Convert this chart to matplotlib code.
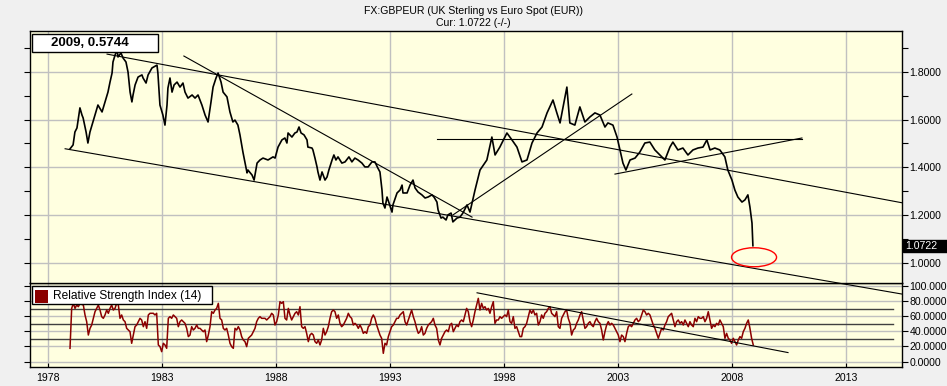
import numpy as np
import matplotlib
matplotlib.use('Agg')
import matplotlib.pyplot as plt
from matplotlib.patches import Ellipse, Rectangle
from matplotlib.transforms import blended_transform_factory

plt.rcParams['font.family'] = ['Liberation Sans', 'DejaVu Sans']

# ---------------- text ----------------
title = "FX:GBPEUR (UK Sterling vs Euro Spot (EUR))"
subtitle = "Cur: 1.0722 (-/-)"
info_label = "2009, 0.5744"
current_value = 1.0722
rsi_label = "Relative Strength Index (14)"

# ---------------- price series (year, GBP/EUR) ----------------
price_dates = [
    1978.96, 1979.10, 1979.18, 1979.27, 1979.40, 1979.49, 1979.54, 1979.67, 1979.75, 1979.84,
    1979.97, 1980.15, 1980.19, 1980.37, 1980.50, 1980.63, 1980.72, 1980.81, 1980.85, 1980.94,
    1981.03, 1981.07, 1981.20, 1981.29, 1981.42, 1981.51, 1981.60, 1981.68, 1981.73, 1981.82,
    1981.95, 1982.12, 1982.17, 1982.30, 1982.39, 1982.56, 1982.78, 1982.82, 1982.91, 1983.00,
    1983.04, 1983.13, 1983.22, 1983.26, 1983.35, 1983.44, 1983.53, 1983.66, 1983.79, 1983.92,
    1984.01, 1984.14, 1984.32, 1984.45, 1984.58, 1984.75, 1984.89, 1985.02, 1985.15, 1985.24,
    1985.37, 1985.46, 1985.59, 1985.68, 1985.85, 1985.98, 1986.11, 1986.20, 1986.33, 1986.42,
    1986.55, 1986.73, 1986.77, 1986.95, 1987.04, 1987.17, 1987.30, 1987.43, 1987.65, 1987.87,
    1987.96, 1988.09, 1988.26, 1988.39, 1988.48, 1988.53, 1988.70, 1988.83, 1988.92, 1989.01,
    1989.10, 1989.23, 1989.36, 1989.40, 1989.58, 1989.62, 1989.71, 1989.80, 1989.84, 1989.93,
    1990.02, 1990.15, 1990.24, 1990.32, 1990.46, 1990.54, 1990.63, 1990.72, 1990.89, 1991.03,
    1991.20, 1991.33, 1991.46, 1991.60, 1991.77, 1991.90, 1992.04, 1992.21, 1992.34, 1992.47,
    1992.56, 1992.65, 1992.69, 1992.78, 1992.87, 1992.96, 1993.09, 1993.13, 1993.31, 1993.44,
    1993.53, 1993.57, 1993.75, 1993.88, 1994.01, 1994.10, 1994.23, 1994.40, 1994.54, 1994.67,
    1994.84, 1994.93, 1995.06, 1995.11, 1995.24, 1995.32, 1995.46, 1995.54, 1995.68, 1995.76,
    1995.94, 1996.07, 1996.20, 1996.38, 1996.51, 1996.73, 1996.95, 1997.25, 1997.47, 1997.61,
    1997.82, 1998.13, 1998.35, 1998.57, 1998.79, 1999.01, 1999.23, 1999.45, 1999.67, 1999.89,
    2000.15, 2000.32, 2000.46, 2000.68, 2000.76, 2000.89, 2001.11, 2001.33, 2001.55, 2001.77,
    2001.99, 2002.21, 2002.43, 2002.56, 2002.78, 2002.96, 2003.09, 2003.22, 2003.35, 2003.53,
    2003.75, 2003.96, 2004.18, 2004.40, 2004.62, 2004.84, 2005.06, 2005.28, 2005.41, 2005.63,
    2005.85, 2006.07, 2006.29, 2006.51, 2006.73, 2006.90, 2007.04, 2007.25, 2007.47, 2007.69,
    2007.82, 2008.00, 2008.13, 2008.26, 2008.44, 2008.57, 2008.70, 2008.79, 2008.88, 2008.92,
]
price_values = [
    1.477, 1.494, 1.548, 1.565, 1.649, 1.619, 1.607, 1.548, 1.502, 1.548,
    1.590, 1.649, 1.661, 1.632, 1.674, 1.715, 1.757, 1.795, 1.841, 1.870,
    1.891, 1.862, 1.879, 1.858, 1.841, 1.799, 1.715, 1.674, 1.703, 1.745,
    1.778, 1.787, 1.774, 1.753, 1.787, 1.816, 1.828, 1.795, 1.661, 1.632,
    1.619, 1.577, 1.661, 1.732, 1.774, 1.715, 1.745, 1.757, 1.736, 1.753,
    1.715, 1.690, 1.703, 1.690, 1.703, 1.661, 1.619, 1.590, 1.674, 1.736,
    1.774, 1.795, 1.757, 1.715, 1.695, 1.632, 1.590, 1.598, 1.577, 1.536,
    1.464, 1.377, 1.389, 1.368, 1.347, 1.418, 1.431, 1.439, 1.431, 1.444,
    1.439, 1.485, 1.515, 1.523, 1.502, 1.544, 1.527, 1.544, 1.548, 1.569,
    1.544, 1.536, 1.515, 1.485, 1.481, 1.473, 1.439, 1.402, 1.381, 1.347,
    1.381, 1.347, 1.360, 1.389, 1.431, 1.452, 1.431, 1.444, 1.418, 1.423,
    1.444, 1.423, 1.439, 1.431, 1.418, 1.402, 1.402, 1.423, 1.423, 1.397,
    1.381, 1.305, 1.251, 1.230, 1.276, 1.251, 1.213, 1.243, 1.293, 1.305,
    1.326, 1.293, 1.293, 1.326, 1.347, 1.314, 1.297, 1.285, 1.272, 1.276,
    1.285, 1.276, 1.255, 1.222, 1.188, 1.192, 1.180, 1.201, 1.209, 1.172,
    1.188, 1.192, 1.209, 1.243, 1.213, 1.305, 1.389, 1.431, 1.527, 1.452,
    1.485, 1.544, 1.515, 1.485, 1.423, 1.431, 1.502, 1.544, 1.569, 1.628,
    1.682, 1.628, 1.586, 1.695, 1.736, 1.586, 1.577, 1.653, 1.590, 1.611,
    1.628, 1.619, 1.569, 1.586, 1.577, 1.527, 1.473, 1.418, 1.389, 1.431,
    1.439, 1.464, 1.502, 1.506, 1.473, 1.452, 1.431, 1.485, 1.506, 1.473,
    1.481, 1.452, 1.473, 1.481, 1.485, 1.515, 1.473, 1.481, 1.473, 1.444,
    1.389, 1.347, 1.305, 1.276, 1.255, 1.264, 1.285, 1.234, 1.167, 1.0722,
]

# ---------------- RSI(14), regularly sampled from start to end ----------------
rsi_start, rsi_end = 1978.965, 2008.936
rsi_values = [
    17.6, 70.2, 76.8, 70.2, 74.6, 72.4, 76.8, 75.5, 74.6, 61.5,
    52.7, 35.1, 43.9, 48.3, 57.1, 65.8, 70.2, 74.6, 68.0, 59.3,
    57.1, 61.5, 68.0, 63.7, 70.2, 74.6, 68.0, 70.2, 76.8, 74.6,
    57.1, 61.5, 54.9, 52.7, 43.9, 41.7, 39.5, 24.2, 35.1, 46.1,
    48.3, 52.7, 57.1, 54.9, 46.1, 52.7, 43.9, 61.5, 63.7, 63.7,
    63.7, 61.5, 63.7, 22.0, 19.8, 13.2, 24.2, 22.0, 17.6, 57.1,
    59.3, 57.1, 61.5, 59.3, 57.1, 46.1, 52.7, 54.9, 52.7, 50.5,
    43.9, 33.0, 35.1, 46.1, 41.7, 43.9, 48.3, 43.9, 43.9, 41.7,
    39.5, 41.7, 26.4, 35.1, 46.1, 65.8, 63.7, 68.0, 70.2, 76.8,
    57.1, 54.9, 43.9, 41.7, 43.9, 35.1, 24.2, 19.8, 17.6, 43.9,
    41.7, 46.1, 41.7, 33.0, 28.6, 26.4, 19.8, 30.8, 33.0, 35.1,
    39.5, 43.9, 52.7, 57.1, 59.3, 57.1, 57.1, 57.1, 54.9, 57.1,
    59.3, 63.7, 61.5, 48.3, 52.7, 61.5, 79.0, 76.8, 79.0, 57.1,
    54.9, 70.2, 61.5,
    54.9, 59.3, 63.7, 65.8, 61.5, 72.4, 46.1, 43.9, 46.1, 37.3,
    26.4, 35.1, 37.3, 35.1, 26.4, 24.2, 28.6, 22.0, 28.6, 43.9,
    35.1, 39.5, 46.1, 57.1, 65.8, 68.0, 65.8, 57.1, 61.5, 50.5,
    46.1, 48.3, 52.7, 57.1, 63.7, 59.3, 57.1, 48.3, 50.5, 48.3,
    43.9, 48.3, 43.9, 37.3, 39.5, 37.3, 46.1, 48.3, 57.1, 61.5,
    57.1, 48.3, 41.7, 35.1, 30.8, 11.0, 24.2, 22.0, 33.0, 39.5,
    46.1, 48.3, 52.7, 57.1, 57.1, 61.5, 63.7, 65.8, 52.7, 48.3,
    54.9, 61.5, 68.0, 59.3, 52.7, 43.9, 37.3, 39.5, 46.1, 35.1,
    37.3, 43.9, 48.3, 50.5, 52.7, 57.1, 48.3, 43.9, 28.6, 22.0,
    30.8, 35.1, 39.5, 41.7, 39.5, 48.3, 50.5, 39.5, 43.9, 48.3,
    46.1, 52.7, 54.9, 52.7, 61.5, 70.2, 65.8, 52.7, 46.1, 54.9,
    65.8, 74.6, 83.4, 68.0, 76.8, 70.2, 72.4, 68.0, 70.2, 63.7,
    72.4, 79.0, 50.5, 54.9, 54.9, 59.3, 57.1, 59.3, 61.5, 59.3,
    68.0, 52.7, 50.5, 59.3, 43.9, 46.1, 39.5, 33.0,
    33.0, 43.9, 46.1, 50.5, 59.3, 68.0, 63.7, 68.0, 61.5, 63.7,
    48.3, 52.7, 61.5, 57.1, 63.7, 65.8, 70.2, 72.4, 63.7, 61.5,
    59.3, 65.8, 46.1, 43.9, 57.1, 61.5, 65.8, 68.0, 57.1, 50.5,
    35.1, 41.7, 43.9, 50.5, 54.9, 61.5, 65.8, 54.9, 43.9, 46.1,
    50.5, 52.7, 48.3, 46.1, 52.7, 57.1, 52.7, 50.5, 41.7, 28.6,
    39.5, 48.3, 52.7, 48.3, 50.5, 48.3, 43.9, 39.5, 35.1, 26.4,
    35.1, 33.0, 26.4, 37.3, 46.1, 48.3, 46.1, 50.5, 54.9, 57.1,
    52.7, 54.9, 61.5, 68.0, 65.8, 61.5, 63.7, 61.5, 54.9, 48.3,
    43.9, 37.3, 30.8, 37.3, 43.9, 41.7, 48.3, 52.7, 59.3, 61.5,
    63.7, 54.9, 46.1, 52.7, 54.9, 50.5, 52.7, 48.3, 54.9, 50.5,
    46.1, 52.7, 48.3, 46.1, 57.1, 52.7, 59.3, 57.1, 57.1, 59.3,
    52.7, 57.1, 65.8, 54.9, 43.9, 48.3, 46.1, 50.5, 48.3, 54.9,
    50.5, 46.1, 30.8, 37.3, 30.8, 28.6, 24.2, 30.8, 26.4, 22.0,
    28.6, 33.0, 30.8, 39.5, 43.9, 50.5, 54.9, 43.9, 30.8, 22.0,
]

# ---------------- drawn annotations (year, value) ----------------
main_trend_lines = [
    ((1978.75, 1.478), (2015.46, 0.870)),
    ((1980.59, 1.874), (2015.46, 1.252)),
    ((1983.96, 1.866), (1996.60, 1.192)),
    ((1995.76, 1.201), (2003.61, 1.707)),
    ((1995.06, 1.519), (2011.07, 1.519)),
    ((2002.87, 1.372), (2011.07, 1.523)),
]
rsi_trend_line = ((1996.82, 90.7), (2010.46, 12.0))
target_ellipse = (2008.97, 1.024, 1.974, 0.0795)  # center x, center y, width, height

year_ticks = [1978, 1983, 1988, 1993, 1998, 2003, 2008, 2013]
price_ticks = [1.0, 1.2, 1.4, 1.6, 1.8]
price_minor_ticks = [1.1, 1.3, 1.5, 1.7, 1.9]
rsi_ticks = [0, 20, 40, 60, 80, 100]
rsi_levels = [30, 50, 70]

# ---------------- figure ----------------
W, H = 947, 386
BG = '#F0F0F0'
PLOT_BG = '#FFFFE0'
GRID = '#C0C0C0'
RSI_COLOR = '#8B0000'
FS = 7.6

def fx(px):
    return px / W

def fy(py):
    return 1 - py / H

fig = plt.figure(figsize=(W / 100, H / 100), dpi=100, facecolor=BG)

L, R = 30, 902
ax = fig.add_axes([fx(L), fy(283), fx(R) - fx(L), fy(31) - fy(283)])
axr = fig.add_axes([fx(L), fy(367), fx(R) - fx(L), fy(283) - fy(367)])
ax.set_zorder(3)
axr.set_zorder(2)

xlim = (1977.21, 2015.46)

# main panel
ax.set_facecolor(PLOT_BG)
ax.set_xlim(*xlim)
ax.set_ylim(0.9163, 1.9707)
ax.set_xticks(year_ticks)
ax.set_yticks(price_ticks)
ax.set_yticks(price_minor_ticks, minor=True)
ax.grid(True, which='major', color=GRID, lw=1.0)
ax.set_axisbelow(True)
ax.tick_params(axis='x', which='both', bottom=False, top=False, labelbottom=False)
ax.tick_params(axis='y', which='both', left=True, right=True, labelleft=False,
               labelright=True, direction='out', length=4, width=0.8,
               labelsize=FS, pad=1.5, colors='black')
ax.yaxis.set_major_formatter(plt.FuncFormatter(lambda v, p: f"{v:.4f}"))
for s in ax.spines.values():
    s.set_color('black')
    s.set_linewidth(1.0)

ax.plot(price_dates, price_values, color='black', lw=1.2, zorder=4)
for (x0, y0), (x1, y1) in main_trend_lines:
    ax.plot([x0, x1], [y0, y1], color='black', lw=0.8, zorder=3, clip_on=False)
cx, cy, ew, eh = target_ellipse
ax.add_patch(Ellipse((cx, cy), ew, eh, fill=False, edgecolor='red', lw=1.0, zorder=5))

# current value marker on the right axis
tr = blended_transform_factory(fig.transFigure, ax.transData)
ax.add_patch(Rectangle((fx(903), current_value - 0.026), fx(947) - fx(903), 0.052,
                       transform=tr, facecolor='black', edgecolor='black',
                       clip_on=False, zorder=6))
ax.text(fx(905), current_value, f"{current_value:.4f}", transform=tr, color='white',
        fontsize=FS, va='center', ha='left', zorder=7, clip_on=False)

# RSI panel
axr.set_facecolor(PLOT_BG)
axr.set_xlim(*xlim)
axr.set_ylim(-7.0, 103.6)
axr.set_xticks(year_ticks)
axr.set_xticklabels([str(y) for y in year_ticks])
axr.set_yticks(rsi_ticks)
axr.grid(True, color=GRID, lw=1.0)
axr.set_axisbelow(True)
for lv in rsi_levels:
    axr.axhline(lv, xmin=0, xmax=(893 - L) / (R - L), color='#404040', lw=1.0, zorder=1.5)
axr.tick_params(axis='x', direction='in', length=3, width=0.8, labelsize=FS, pad=4,
                top=False)
axr.tick_params(axis='y', left=True, right=True, labelleft=False, labelright=True,
                direction='out', length=4, width=0.8, labelsize=FS, pad=1.5)
axr.yaxis.set_major_formatter(plt.FuncFormatter(lambda v, p: f"{v:.4f}"))
for s in axr.spines.values():
    s.set_color('black')
    s.set_linewidth(1.0)

rsi_dates = np.linspace(rsi_start, rsi_end, len(rsi_values))
axr.plot(rsi_dates, rsi_values, color=RSI_COLOR, lw=1.1, zorder=3)
(rx0, ry0), (rx1, ry1) = rsi_trend_line
axr.plot([rx0, rx1], [ry0, ry1], color='black', lw=0.8, zorder=4)

# titles
fig.text(0.5, fy(11), title, ha='center', va='center', fontsize=FS, color='black')
fig.text(0.5, fy(23), subtitle, ha='center', va='center', fontsize=FS, color='black')

# info box (top-left)
fig.add_artist(Rectangle((fx(32), fy(52.3)), fx(158) - fx(32), fy(34.3) - fy(52.3),
                         transform=fig.transFigure, facecolor='white', edgecolor='black',
                         lw=1.0, zorder=10))
fig.text(fx(90), fy(43.5), info_label, ha='center', va='center', fontsize=9.5,
         fontweight='bold', color='black', zorder=11)

# RSI legend box
fig.add_artist(Rectangle((fx(32), fy(304)), fx(212) - fx(32), fy(286) - fy(304),
                         transform=fig.transFigure, facecolor='white', edgecolor='black',
                         lw=1.0, zorder=10))
fig.add_artist(Rectangle((fx(34.5), fy(302.5)), fx(48) - fx(34.5), fy(290) - fy(302.5),
                         transform=fig.transFigure, facecolor=RSI_COLOR, edgecolor='none',
                         zorder=11))
fig.text(fx(53), fy(295.5), rsi_label, ha='left', va='center', fontsize=8.6,
         color='black', zorder=11)

fig.savefig('out.png', dpi=100, facecolor=BG)
